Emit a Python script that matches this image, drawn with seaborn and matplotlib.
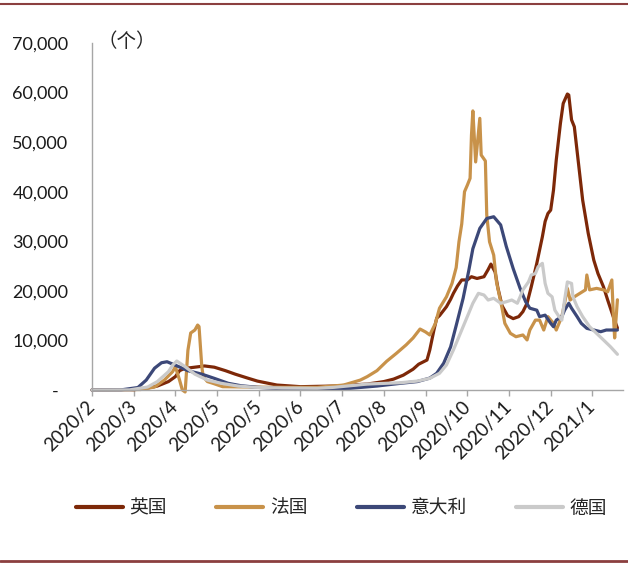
import pandas as pd
import matplotlib
matplotlib.use('Agg')
import matplotlib.pyplot as plt
from matplotlib.lines import Line2D
import seaborn as sns

# daily new cases; days counted from 2020-02-01
start = pd.Timestamp('2020-02-01')

uk_days = [0, 30, 40, 47, 55, 60, 63, 67, 71, 81, 88, 96, 103, 112, 119, 133, 150, 174, 198, 210,
           217, 224, 231, 235, 241, 243, 246, 248, 250, 255, 258, 260, 263, 266, 270, 273, 277, 282, 285, 287,
           290, 292, 295, 299, 303, 307, 310, 313, 316, 320, 324, 326, 328, 330, 332, 334, 337, 339, 342, 343,
           345, 347, 350, 353, 357, 361, 364, 368, 371, 375, 378]
uk_cases = [0, 50, 400, 800, 1700, 2700, 3900, 4400, 4500, 4850, 4600, 3900, 3200, 2400, 1800, 1000, 670, 800, 1200, 1700,
            2200, 3000, 4200, 5200, 6050, 8070, 12100, 14500, 15000, 16800, 18300, 19500, 21000, 22200, 22200, 22850, 22500, 22850, 24300, 25400,
            23800, 20600, 17000, 15000, 14400, 14800, 15800, 17500, 20800, 25550, 30900, 34000, 35600, 36300, 40300, 46400, 53800, 57800, 59700, 59500,
            54500, 53100, 45700, 38300, 31600, 26200, 23500, 20800, 18150, 14800, 12500]

fr_days = [0, 35, 45, 52, 58, 60, 63, 65, 67, 69, 71, 74, 76, 77, 79, 80, 83, 87, 94, 113,
           138, 162, 181, 193, 198, 205, 212, 219, 226, 231, 236, 240, 243, 247, 250, 255, 259, 262, 264, 266,
           268, 270, 272, 273, 274, 276, 279, 280, 283, 284, 286, 289, 291, 295, 297, 301, 305, 310, 313, 315,
           319, 322, 325, 328, 332, 334, 338, 340, 342, 344, 347, 351, 355, 356, 358, 363, 368, 371, 374, 375,
           376, 378]
fr_cases = [0, 100, 600, 2000, 3700, 4700, 2000, 0, -400, 8000, 11500, 12100, 13100, 12800, 4700, 2700, 1700, 1350, 670, 600,
            540, 540, 1000, 2000, 2700, 3900, 5800, 7400, 9100, 10500, 12300, 11700, 11100, 13400, 16500, 18800, 21500, 24700, 29900, 33500,
            40000, 41300, 42700, 51400, 56300, 46000, 54800, 47400, 46200, 35300, 29900, 27200, 21800, 16500, 13450, 11430, 10750, 11100, 10100, 12100,
            14100, 14100, 12100, 14800, 13450, 12100, 14800, 17500, 20500, 18150, 18800, 19500, 20200, 23200, 20200, 20500, 20200, 19800, 22200, 15500,
            10500, 18200]

it_days = [0, 21, 33, 39, 45, 50, 54, 60, 69, 79, 88, 98, 107, 119, 137, 162, 186, 205, 222, 234,
           243, 248, 253, 258, 262, 267, 271, 274, 279, 284, 289, 294, 298, 303, 308, 312, 315, 320, 322, 326,
           330, 332, 334, 338, 340, 343, 345, 349, 352, 356, 361, 366, 370, 378]
it_cases = [0, 30, 500, 2000, 4400, 5500, 5700, 5000, 3900, 3200, 2350, 1350, 870, 540, 250, 200, 350, 800, 1350, 1700,
            2400, 3370, 5400, 8700, 13000, 18500, 24000, 28500, 32600, 34600, 34950, 33300, 29000, 24500, 20500, 17800, 16500, 16100, 14800, 15100,
            13450, 12770, 14100, 14800, 16100, 17500, 16500, 14800, 13450, 12440, 12100, 11760, 12100, 12100]

de_days = [0, 27, 40, 47, 55, 58, 61, 67, 74, 83, 93, 105, 117, 137, 162, 174, 198, 222, 234, 243,
           250, 255, 260, 265, 270, 274, 278, 282, 285, 289, 294, 298, 302, 306, 308, 310, 314, 316, 319, 321,
           324, 326, 328, 331, 333, 336, 338, 340, 342, 345, 346, 349, 353, 358, 363, 368, 373, 378]
de_cases = [0, 20, 600, 1700, 3700, 5000, 5850, 4700, 3200, 2000, 1350, 800, 540, 400, 350, 540, 1200, 1470, 1800, 2350,
            3370, 5040, 8070, 11430, 14800, 17500, 19500, 19160, 18150, 18500, 17500, 17800, 18150, 17500, 18800, 20200, 21800, 23200, 23500, 24870,
            25550, 21500, 19500, 18800, 16100, 14800, 14100, 18150, 21800, 21500, 18800, 16800, 14800, 12770, 11430, 10085, 8730, 7200]

countries = ['英国', '法国', '意大利', '德国']
colors = ['#7d2808', '#c8924a', '#3c4878', '#cacaca']

frames = []
for name, days, cases in zip(countries, [uk_days, fr_days, it_days, de_days],
                             [uk_cases, fr_cases, it_cases, de_cases]):
    frames.append(pd.DataFrame({'date': start + pd.to_timedelta(days, unit='D'),
                                'cases': cases, 'country': name}))
df = pd.concat(frames, ignore_index=True)

sns.set_style('white')
plt.rcParams['font.family'] = ['Lato', 'Noto Sans CJK SC', 'DejaVu Sans']

fig = plt.figure(figsize=(6.28, 5.64), dpi=100)
ax = fig.add_axes([0.1465, 0.3085, 0.8455, 0.6153])
sns.lineplot(data=df, x='date', y='cases', hue='country', hue_order=countries,
             palette=colors, linewidth=2.3, estimator=None, ax=ax)
for ln in ax.lines:
    ln.set_clip_on(False)

ax.set_xlim(start, start + pd.Timedelta(days=382))
ax.set_ylim(0, 70000)

xt = [start + pd.Timedelta(days=30 * k) for k in range(13)]
ax.set_xticks(xt)
ax.set_xticklabels([f'{d.year}/{d.month}' for d in xt])
yt = list(range(0, 70001, 10000))
ax.set_yticks(yt)
ax.set_yticklabels(['-  ' if v == 0 else f'{v:,}' for v in yt])

ax.tick_params(axis='y', length=0, pad=17, labelsize=13, labelcolor='#1a1a1a')
ax.tick_params(axis='x', bottom=True, length=4, width=1, color='#a6a6a6', direction='out',
               pad=6, labelsize=13.5, labelcolor='#1a1a1a')
plt.setp(ax.get_xticklabels(), rotation=45, ha='right', va='center', rotation_mode='anchor')

sns.despine(ax=ax)
for s in ['left', 'bottom']:
    ax.spines[s].set_color('#a6a6a6')
    ax.spines[s].set_linewidth(1)
ax.set_xlabel('')
ax.set_ylabel('')

handles, labels = ax.get_legend_handles_labels()
ax.get_legend().remove()
leg = fig.legend(handles, labels, loc='center', bbox_to_anchor=(0.544, 0.099), ncol=4,
                 frameon=False, handlelength=2.5, handletextpad=0.35, columnspacing=2.65,
                 prop={'family': 'Noto Sans CJK SC', 'size': 13.5})
for h in leg.get_lines():
    h.set_linewidth(3)

fig.text(0.155, 0.926, '（个）', fontsize=14, family='Noto Sans CJK SC', va='center')

# dark red rules at the top and bottom of the figure
fig.add_artist(Line2D([0, 1], [0.993, 0.993], transform=fig.transFigure, color='#8b3f3f', lw=1.5))
fig.add_artist(Line2D([0, 1], [0.005, 0.005], transform=fig.transFigure, color='#8b3f3f', lw=2))

fig.savefig('out.png', dpi=100)
